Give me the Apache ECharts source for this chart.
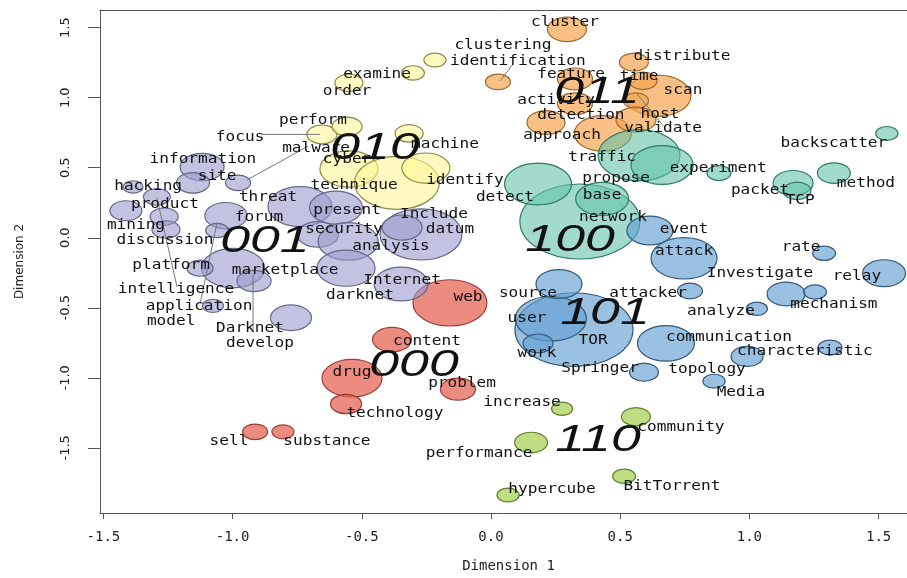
<!DOCTYPE html>
<html>
<head>
<meta charset="utf-8">
<script src="https://cdn.jsdelivr.net/npm/echarts@6/dist/echarts.min.js"></script>
<style>
  html, body { margin: 0; padding: 0; background: #ffffff; }
  #chart { width: 907px; height: 578px; }
</style>
</head>
<body>
<div id="chart"></div>
<script>
// Cluster codes (index used by bubbleGroup)
const clusterCodes = ['000', '001', '010', '011', '100', '101', '110'];
const clusterLabelX = [-0.298, -0.875, -0.449, 0.410, 0.306, 0.441, 0.414];
const clusterLabelY = [-0.910, -0.026, 0.639, 1.035, -0.019, -0.543, -1.448];

// Term bubbles: position on the two dimensions, weight and cluster
const bubbleGroup = [
  0, 0, 0, 0, 0, 0, 0,
  1, 1, 1, 1, 1, 1, 1, 1, 1, 1, 1, 1, 1, 1, 1, 1, 1, 1, 1, 1, 1, 1, 1,
  2, 2, 2, 2, 2, 2, 2, 2, 2,
  3, 3, 3, 3, 3, 3, 3, 3, 3, 3, 3,
  4, 4, 4, 4, 4, 4, 4, 4, 4, 4,
  5, 5, 5, 5, 5, 5, 5, 5, 5, 5, 5, 5, 5, 5, 5, 5, 5,
  6, 6, 6, 6, 6
];
const bubbleX = [
  -0.159, -0.383, -0.538, -0.561, -0.128, -0.913, -0.805,
  -1.118, -1.153, -0.979, -1.385, -1.293, -1.413, -1.265, -1.258, -1.026, -1.060, -0.998, -1.126,
  -0.917, -1.076, -0.774, -0.739, -0.600, -0.670, -0.553, -0.271, -0.344, -0.561, -0.348,
  -0.654, -0.557, -0.550, -0.302, -0.217, -0.317, -0.550, -0.364, -0.252,
  0.294, 0.027, 0.553, 0.646, 0.588, 0.561, 0.325, 0.325, 0.213, 0.433, 0.561,
  0.344, 0.182, 0.430, 0.573, 0.662, 0.882, 1.169, 1.184, 1.327, 1.532,
  0.321, 0.232, 0.263, 0.182, 0.770, 0.677, 0.592, 0.863, 0.991, 1.312, 1.029, 1.142, 1.254,
  1.521, 1.289, 0.747, 0.615,
  0.275, 0.155, 0.066, 0.561, 0.515
];
const bubbleY = [
  -0.465, -0.727, -1.003, -1.187, -1.081, -1.386, -1.386,
  0.505, 0.392, 0.392, 0.363, 0.292, 0.193, 0.151, 0.059, 0.158, 0.052, -0.217, -0.217,
  -0.309, -0.486, -0.571, 0.222, 0.215, 0.024, -0.026, 0.024, 0.073, -0.217, -0.330,
  0.738, 0.794, 1.106, 1.177, 1.269, 0.745, 0.491, 0.392, 0.498,
  1.488, 1.113, 1.254, 1.014, 1.121, 0.979, 1.134, 0.957, 0.823, 0.745, 0.844,
  0.116, 0.384, 0.278, 0.589, 0.519, 0.462, 0.391, 0.335, 0.462, 0.745,
  -0.656, -0.578, -0.330, -0.754, -0.380, -0.754, -0.960, -1.024, -0.847, -0.784, -0.507, -0.401, -0.387,
  -0.253, -0.111, -0.147, 0.052,
  -1.221, -1.462, -1.837, -1.278, -1.703
];
const bubbleWeight = [
  33.4, 9.3, 22.0, 5.9, 7.5, 3.8, 3.0,
  11.8, 6.6, 3.8, 2.4, 4.4, 6.25, 4.8, 4.8, 10.8, 3.2, 24.2, 4.1,
  7.1, 2.7, 10.3, 25.0, 17.1, 10.3, 22.0, 41.0, 9.8, 20.5, 17.8,
  5.5, 5.5, 4.8, 3.2, 3.0, 4.8, 20.5, 44.0, 14.1,
  9.3, 3.8, 5.1, 26.6, 4.8, 3.8, 7.5, 7.5, 8.8, 19.8, 9.8,
  87.9, 27.4, 17.1, 41.0, 23.5, 3.5, 9.8, 4.8, 6.6, 3.0,
  85.0, 30.8, 12.9, 5.5, 3.8, 19.8, 5.1, 3.0, 6.25, 3.5, 2.7, 8.8, 3.2,
  11.3, 3.2, 26.6, 12.9,
  2.7, 6.6, 3.0, 5.1, 3.2
];

// Term labels and where each one is written
const termText = [
  'perform', 'focus', 'malware', 'information', 'site', 'hacking', 'product', 'mining',
  'discussion', 'platform', 'intelligence', 'application', 'model', 'Darknet', 'develop',
  'threat', 'forum', 'marketplace', 'technique', 'present', 'security', 'analysis',
  'Include', 'datum', 'Internet', 'darknet', 'web', 'content', 'drug', 'problem',
  'technology', 'sell', 'substance', 'increase', 'performance', 'hypercube', 'community',
  'BitTorrent', 'source', 'user', 'TOR', 'work', 'Springer', 'attacker', 'analyze',
  'communication', 'characteristic', 'topology', 'Media', 'mechanism', 'relay', 'rate',
  'Investigate', 'attack', 'event', 'network', 'base', 'propose', 'detect', 'traffic',
  'experiment', 'packet', 'TCP', 'method', 'backscatter', 'cluster', 'clustering',
  'identification', 'distribute', 'feature', 'time', 'scan', 'activity', 'detection',
  'host', 'approach', 'validate', 'examine', 'order', 'machine', 'cyber', 'identify'
];
const termX = [
  -0.689, -0.971, -0.677, -1.115, -1.060, -1.327, -1.262, -1.374,
  -1.262, -1.238, -1.219, -1.130, -1.238, -0.933, -0.894,
  -0.863, -0.898, -0.797, -0.530, -0.557, -0.569, -0.387,
  -0.221, -0.159, -0.344, -0.507, -0.089, -0.248, -0.538, -0.112,
  -0.372, -1.014, -0.635, 0.120, -0.046, 0.236, 0.735,
  0.700, 0.143, 0.139, 0.395, 0.178, 0.422, 0.608, 0.890,
  0.921, 1.215, 0.836, 0.967, 1.327, 1.416, 1.200,
  1.041, 0.747, 0.747, 0.472, 0.430, 0.484, 0.054, 0.430,
  0.879, 1.041, 1.196, 1.451, 1.327, 0.286, 0.046,
  0.104, 0.739, 0.310, 0.573, 0.743, 0.252, 0.348,
  0.654, 0.275, 0.666, -0.441, -0.557, -0.178, -0.557, -0.101
];
const termY = [
  0.837, 0.716, 0.639, 0.561, 0.441, 0.370, 0.236, 0.087,
  -0.019, -0.196, -0.366, -0.493, -0.599, -0.649, -0.752,
  0.285, 0.143, -0.232, 0.377, 0.193, 0.059, -0.062,
  0.165, 0.059, -0.302, -0.409, -0.423, -0.741, -0.960, -1.038,
  -1.257, -1.455, -1.455, -1.177, -1.540, -1.795, -1.356,
  -1.774, -0.399, -0.578, -0.734, -0.826, -0.932, -0.399, -0.529,
  -0.711, -0.812, -0.939, -1.102, -0.479, -0.274, -0.068,
  -0.253, -0.097, 0.059, 0.144, 0.306, 0.427, 0.285, 0.576,
  0.498, 0.342, 0.264, 0.391, 0.674, 1.538, 1.375,
  1.262, 1.298, 1.170, 1.156, 1.050, 0.979, 0.873,
  0.880, 0.731, 0.781, 1.170, 1.043, 0.667, 0.563, 0.413
];

// Leader lines joining displaced labels to their points
const leaderFrom = [
  [-0.886, 0.738], [-0.944, 0.413], [-1.293, 0.285], [-1.060, 0.108],
  [-0.921, -0.260], [0.035, 1.120], [0.565, 1.028]
];
const leaderTo = [
  [-0.662, 0.738], [-0.708, 0.654], [-1.215, -0.352], [-1.126, -0.472],
  [-0.921, -0.656], [0.085, 1.241], [0.666, 0.801]
];

// Axis ticks
const xTicks = [-1.5, -1.0, -0.5, 0.0, 0.5, 1.0, 1.5];
const xTickLabels = ['-1.5', '-1.0', '-0.5', '0.0', '0.5', '1.0', '1.5'];
const yTicks = [-1.5, -1.0, -0.5, 0.0, 0.5, 1.0, 1.5];
const yTickLabels = ['-1.5', '-1.0', '-0.5', '0.0', '0.5', '1.0', '1.5'];

// Cluster colours
const clusterFill = {
  '000': 'rgba(230,100,85,0.75)',
  '001': 'rgba(155,155,205,0.6)',
  '010': 'rgba(255,248,150,0.6)',
  '011': 'rgba(245,165,80,0.7)',
  '100': 'rgba(100,195,170,0.6)',
  '101': 'rgba(100,160,210,0.65)',
  '110': 'rgba(170,210,90,0.75)'
};
const clusterStroke = {
  '000': '#9a4038', '001': '#66668a', '010': '#8a8a4c', '011': '#9a6a30',
  '100': '#2e7a6a', '101': '#35597a', '110': '#5f7f2a'
};

const X_MIN = -1.5132, X_MAX = 1.6099;

const chart = echarts.init(document.getElementById('chart'), null, { renderer: 'canvas' });

const bubbleData = bubbleX.map((x, i) => [x, bubbleY[i], bubbleWeight[i]]);
const termData = termX.map((x, i) => [x, termY[i]]);
const clusterData = clusterLabelX.map((x, i) => [x, clusterLabelY[i]]);
const leaderData = leaderFrom.map((p, i) => [p[0], p[1], leaderTo[i][0], leaderTo[i][1]]);

function tickFormatter(ticks, labels) {
  return function (v) {
    const k = ticks.findIndex(t => Math.abs(t - v) < 1e-9);
    return k >= 0 ? labels[k] : v.toFixed(1);
  };
}

const option = {
  animation: false,
  backgroundColor: '#ffffff',
  grid: { left: 100, right: 0, top: 10, bottom: 60 },
  xAxis: [
    {
      type: 'value',
      min: X_MIN, max: X_MAX,
      axisLine: { show: true, onZero: false, lineStyle: { color: '#555', width: 1 } },
      axisTick: { show: true, length: 6, customValues: xTicks, lineStyle: { color: '#555' } },
      axisLabel: {
        customValues: xTicks,
        formatter: tickFormatter(xTicks, xTickLabels),
        fontFamily: 'DejaVu Sans Mono', fontSize: 14, color: '#222', margin: 17
      },
      splitLine: { show: false },
      name: 'Dimension 1', nameLocation: 'middle', nameGap: 46,
      nameTextStyle: { fontFamily: 'DejaVu Sans Mono', fontSize: 14, color: '#222', padding: [0, 0, 0, 10] }
    },
    {
      // top edge of the plot box
      type: 'value', position: 'top',
      min: X_MIN, max: X_MAX,
      axisLine: { show: true, onZero: false, lineStyle: { color: '#555', width: 1 } },
      axisTick: { show: false }, axisLabel: { show: false }, splitLine: { show: false }
    }
  ],
  yAxis: {
    type: 'value',
    min: -1.9653, max: 1.6263,
    axisLine: { show: true, onZero: false, lineStyle: { color: '#555', width: 1 } },
    axisTick: { show: true, length: 12, customValues: yTicks, lineStyle: { color: '#555' } },
    axisLabel: {
      customValues: yTicks,
      formatter: tickFormatter(yTicks, yTickLabels),
      rotate: 90,
      fontFamily: 'DejaVu Sans', fontSize: 13, color: '#222', margin: 28
    },
    splitLine: { show: false },
    name: 'Dimension 2', nameLocation: 'middle', nameGap: 74,
    nameTextStyle: { fontFamily: 'DejaVu Sans', fontSize: 12, color: '#222' }
  },
  series: [
    {
      // term bubbles, drawn as wide ellipses
      type: 'custom',
      coordinateSystem: 'cartesian2d',
      data: bubbleData,
      renderItem: function (params, api) {
        const p = api.coord([api.value(0), api.value(1)]);
        const ry = 4 * Math.sqrt(api.value(2));
        const code = clusterCodes[bubbleGroup[params.dataIndex]];
        return {
          type: 'ellipse',
          shape: { cx: p[0], cy: p[1], rx: ry * 1.6, ry: ry },
          style: { fill: clusterFill[code], stroke: clusterStroke[code], lineWidth: 1.2 }
        };
      },
      z: 2
    },
    {
      // leader lines
      type: 'custom',
      coordinateSystem: 'cartesian2d',
      data: leaderData,
      renderItem: function (params, api) {
        const a = api.coord([api.value(0), api.value(1)]);
        const b = api.coord([api.value(2), api.value(3)]);
        return {
          type: 'line',
          shape: { x1: a[0], y1: a[1], x2: b[0], y2: b[1] },
          style: { stroke: '#777', lineWidth: 1 }
        };
      },
      z: 3
    },
    {
      // term labels
      type: 'custom',
      coordinateSystem: 'cartesian2d',
      data: termData,
      renderItem: function (params, api) {
        const p = api.coord([api.value(0), api.value(1)]);
        return {
          type: 'text',
          x: p[0], y: p[1], scaleX: 1.15,
          style: {
            text: termText[params.dataIndex],
            fontFamily: 'DejaVu Sans Mono', fontSize: 14,
            fill: '#111', align: 'center', verticalAlign: 'middle'
          }
        };
      },
      z: 4
    },
    {
      // cluster codes
      type: 'custom',
      coordinateSystem: 'cartesian2d',
      data: clusterData,
      renderItem: function (params, api) {
        const p = api.coord([api.value(0), api.value(1)]);
        return {
          type: 'text',
          x: p[0], y: p[1], scaleX: 1.45,
          style: {
            text: clusterCodes[params.dataIndex],
            fontFamily: 'Liberation Sans', fontStyle: 'italic', fontSize: 37,
            fill: '#111', align: 'center', verticalAlign: 'middle'
          }
        };
      },
      z: 5
    }
  ]
};

chart.setOption(option);
</script>
</body>
</html>
